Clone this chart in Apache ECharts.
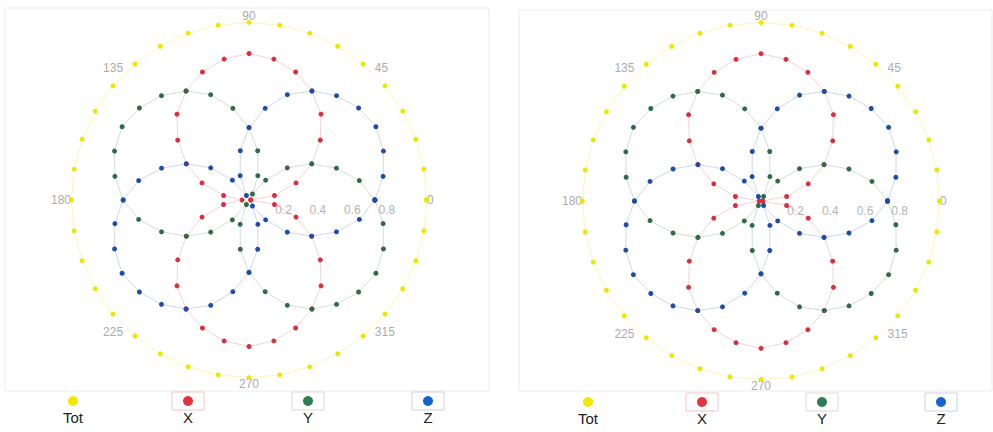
<!DOCTYPE html>
<html>
<head>
<meta charset="utf-8">
<script src="https://cdn.jsdelivr.net/npm/echarts@6/dist/echarts.min.js"></script>
<style>
  html, body { margin: 0; padding: 0; background: #ffffff; }
  #main { width: 993px; height: 432px; }
</style>
</head>
<body>
<div id="main"></div>
<script>
// Sample directions in degrees (the 360 sample closes each loop)
const angles = [0,10,20,30,40,50,60,70,80,90,100,110,120,130,140,150,160,170,180,
                190,200,210,220,230,240,250,260,270,280,290,300,310,320,330,340,350,360];

// Left panel
const totLeft = [1.03,1.03,1.03,1.03,1.03,1.03,1.03,1.03,1.03,1.03,1.03,1.03,1.03,1.03,1.03,1.03,1.03,1.03,1.03,
                 1.03,1.03,1.03,1.03,1.03,1.03,1.03,1.03,1.03,1.03,1.03,1.03,1.03,1.03,1.03,1.03,1.03,1.03];
const xLeft = [0.01,0.15,0.29,0.42,0.54,0.65,0.73,0.79,0.83,0.85,0.83,0.79,0.73,0.65,0.54,0.42,0.29,0.15,0.04,
               0.15,0.29,0.42,0.54,0.65,0.73,0.79,0.83,0.85,0.83,0.79,0.73,0.65,0.54,0.42,0.29,0.15,0.01];
const yLeft = [0.73,0.65,0.54,0.42,0.29,0.15,0.04,0.15,0.29,0.42,0.54,0.65,0.73,0.79,0.83,0.85,0.83,0.79,0.73,
               0.65,0.54,0.42,0.29,0.15,0.03,0.15,0.29,0.42,0.54,0.65,0.73,0.79,0.83,0.85,0.83,0.79,0.73];
const zLeft = [0.73,0.79,0.83,0.85,0.83,0.79,0.73,0.65,0.54,0.42,0.29,0.15,0.03,0.15,0.29,0.42,0.54,0.65,0.73,
               0.79,0.83,0.85,0.83,0.79,0.73,0.65,0.54,0.42,0.29,0.15,0.04,0.15,0.29,0.42,0.54,0.65,0.73];

// Right panel
const totRight = [1.03,1.03,1.03,1.03,1.03,1.03,1.03,1.03,1.03,1.03,1.03,1.03,1.03,1.03,1.03,1.03,1.03,1.03,1.03,
                  1.03,1.03,1.03,1.03,1.03,1.03,1.03,1.03,1.03,1.03,1.03,1.03,1.03,1.03,1.03,1.03,1.03,1.03];
const xRight = [0.01,0.15,0.29,0.42,0.54,0.65,0.73,0.79,0.83,0.85,0.83,0.79,0.73,0.65,0.54,0.42,0.29,0.15,0.01,
                0.15,0.29,0.42,0.54,0.65,0.73,0.79,0.83,0.85,0.83,0.79,0.73,0.65,0.54,0.42,0.29,0.15,0.01];
const yRight = [0.73,0.65,0.54,0.42,0.29,0.15,0.03,0.15,0.29,0.42,0.54,0.65,0.73,0.79,0.83,0.85,0.83,0.79,0.73,
                0.65,0.54,0.42,0.29,0.15,0.03,0.15,0.29,0.42,0.54,0.65,0.73,0.79,0.83,0.85,0.83,0.79,0.73];
const zRight = [0.73,0.79,0.83,0.85,0.83,0.79,0.73,0.65,0.54,0.42,0.29,0.15,0.03,0.15,0.29,0.42,0.54,0.65,0.73,
                0.79,0.83,0.85,0.83,0.79,0.73,0.65,0.54,0.42,0.29,0.15,0.03,0.15,0.29,0.42,0.54,0.65,0.73];

const seriesNames = ['Tot', 'X', 'Y', 'Z'];
const pointColors = { Tot: '#eee600', X: '#d8303e', Y: '#2f6a4b', Z: '#1c4ea8' };
const lineOpacity = { Tot: 0.3, X: 0.22, Y: 0.22, Z: 0.22 };
const legendColors = { Tot: '#f2e800', X: '#e2343f', Y: '#2d7e52', Z: '#1463cf' };
const boxColors = { X: '#efc4c8', Y: '#d6dcd8', Z: '#c9d3e6' };

const panels = [
  { center: [249, 200], radius: 181, data: { Tot: totLeft, X: xLeft, Y: yLeft, Z: zLeft },
    legendX: [68, 188, 308, 428], legendY: 401, frame: [5, 8, 484, 383] },
  { center: [761, 201], radius: 182, data: { Tot: totRight, X: xRight, Y: yRight, Z: zRight },
    legendX: [583, 702, 822, 941], legendY: 402, frame: [519, 10, 473, 381] }
];

const polar = [], angleAxis = [], radiusAxis = [], series = [], legend = [], graphic = [];

panels.forEach((p, pi) => {
  polar.push({ center: p.center, radius: p.radius });
  angleAxis.push({
    polarIndex: pi, type: 'value', min: 0, max: 360, interval: 45,
    startAngle: 0, clockwise: false,
    axisLine: { show: false }, axisTick: { show: false }, splitLine: { show: false },
    axisLabel: {
      margin: -3, color: '#ababab', fontSize: 12, fontFamily: 'Liberation Sans, Arial, sans-serif',
      formatter: v => (v === 360 ? '' : String(v))
    }
  });
  radiusAxis.push({
    polarIndex: pi, type: 'value', min: 0, max: 1.05, interval: 0.2,
    axisLine: { show: false }, axisTick: { show: false }, splitLine: { show: false },
    axisLabel: {
      margin: -16, color: '#b4b4b4', fontSize: 12, fontFamily: 'Liberation Sans, Arial, sans-serif',
      formatter: v => (v > 0.1 && v < 0.9 ? v.toFixed(1) : '')
    }
  });

  seriesNames.forEach(name => {
    const vals = p.data[name];
    series.push({
      name, type: 'line', coordinateSystem: 'polar', polarIndex: pi,
      data: angles.map((a, i) => [vals[i], a]),
      symbol: 'circle', symbolSize: 5,
      itemStyle: { color: pointColors[name] },
      lineStyle: { width: 1, color: pointColors[name], opacity: lineOpacity[name] },
      animation: false, silent: true
    });
  });

  // panel frame
  graphic.push({
    type: 'rect', silent: true,
    shape: { x: p.frame[0], y: p.frame[1], width: p.frame[2], height: p.frame[3] },
    style: { fill: 'none', stroke: '#ececec', lineWidth: 1 }
  });

  seriesNames.forEach((name, k) => {
    const cx = p.legendX[k];
    if (boxColors[name]) {
      graphic.push({
        type: 'rect', silent: true, z: 1,
        shape: { x: cx - 16, y: p.legendY - 9, width: 32, height: 18 },
        style: { fill: 'none', stroke: boxColors[name], lineWidth: 1 }
      });
    }
    legend.push({
      left: cx - 5, top: p.legendY - 5, padding: 0, selectedMode: false,
      itemWidth: 10, itemHeight: 10,
      data: [{ name, icon: 'circle', itemStyle: { color: legendColors[name] } }],
      formatter: n => '{n|' + n + '}',
      textStyle: {
        padding: [32, 0, 0, -30],
        rich: { n: { width: 40, align: 'center', fontSize: 15, color: '#222',
                     fontFamily: 'Liberation Sans, Arial, sans-serif' } }
      }
    });
  });
});

const chart = echarts.init(document.getElementById('main'), null, { renderer: 'svg' });
chart.setOption({
  backgroundColor: '#ffffff',
  animation: false,
  polar, angleAxis, radiusAxis, series, legend, graphic
});
</script>
</body>
</html>
